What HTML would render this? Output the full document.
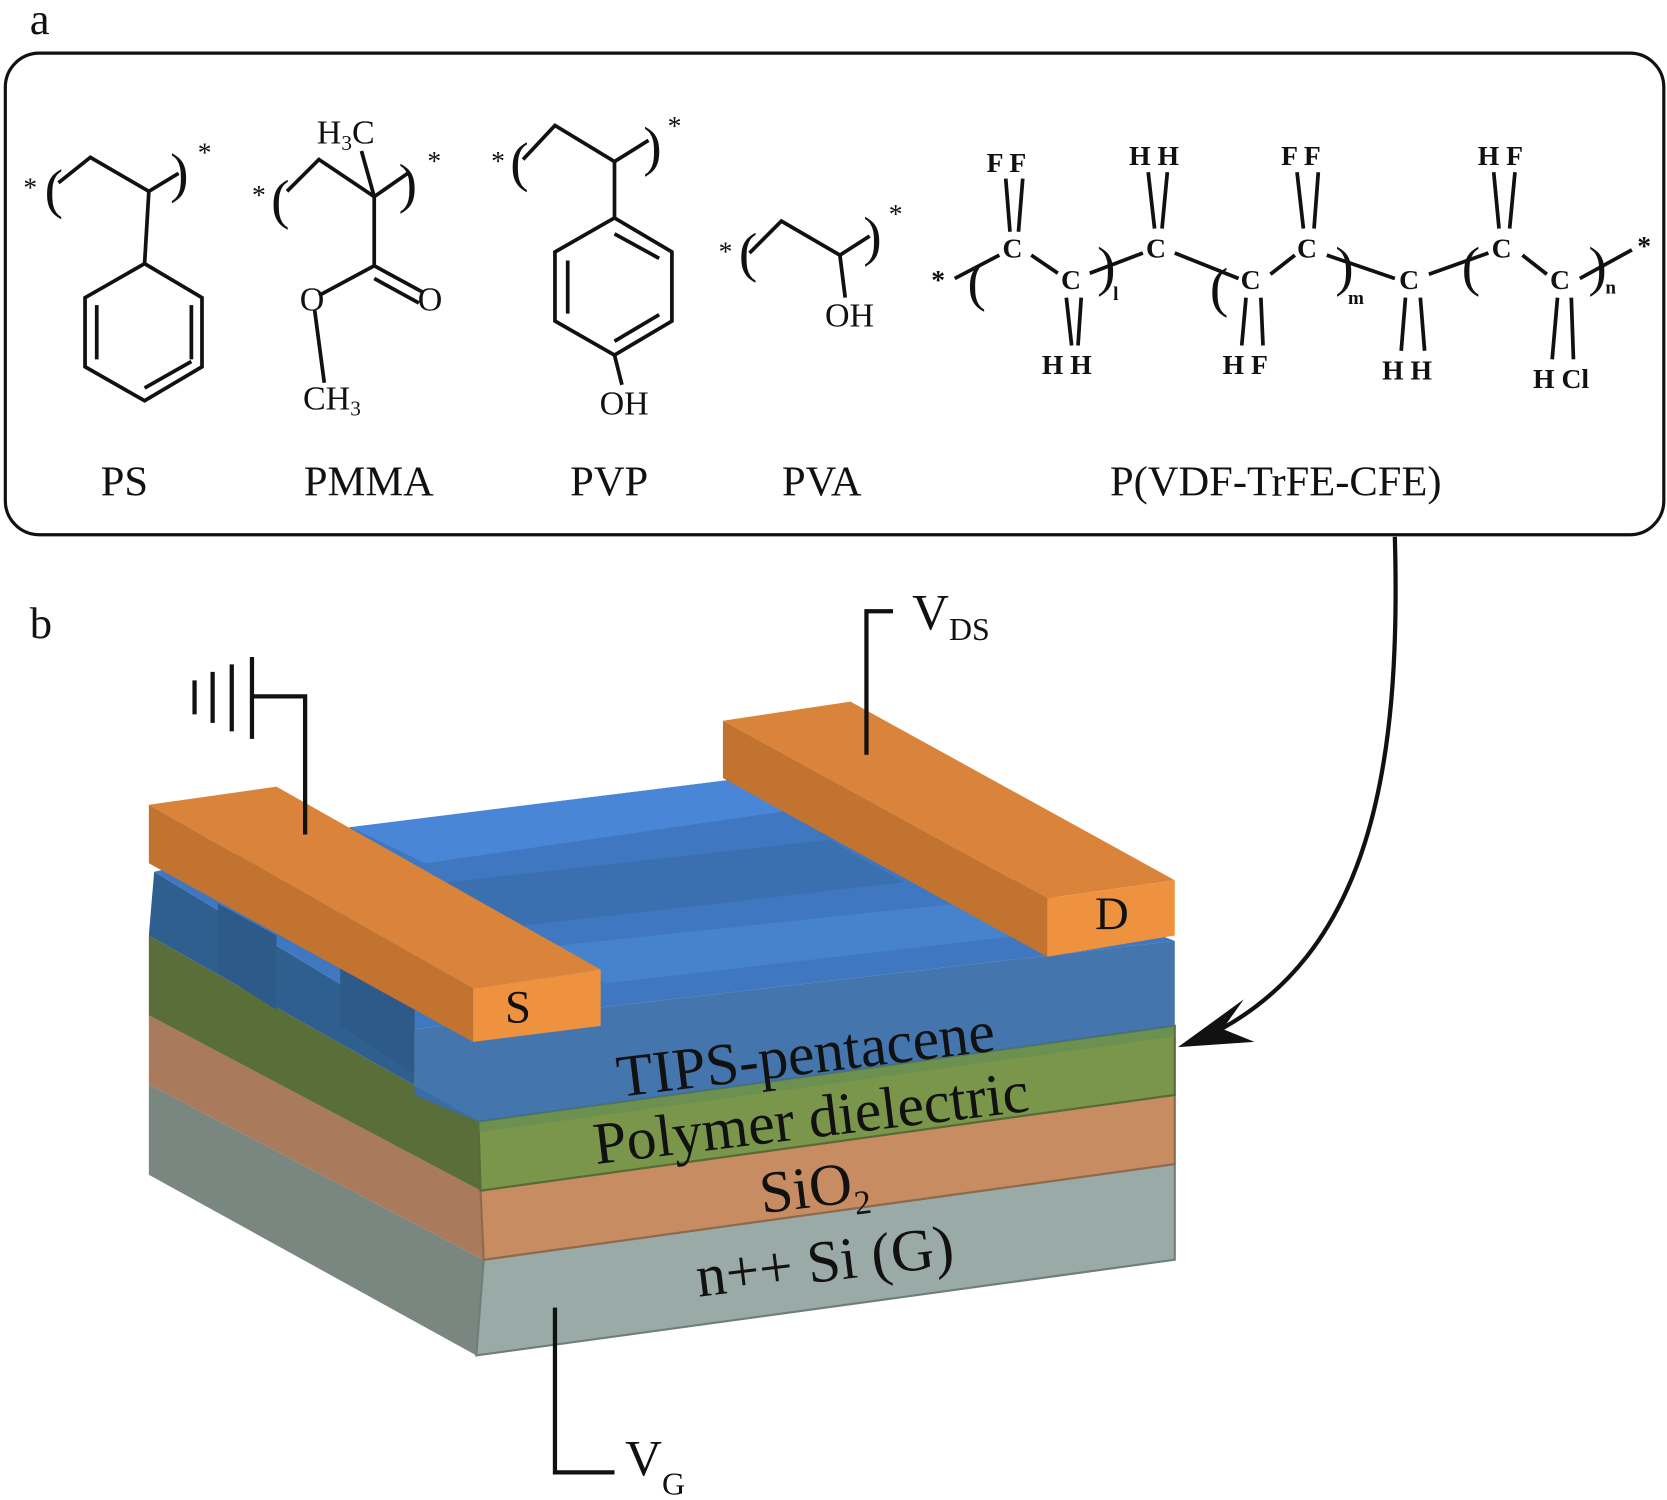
<!DOCTYPE html>
<html><head><meta charset="utf-8"><style>
html,body{margin:0;padding:0;background:#fff}
svg{display:block}
text{font-family:"Liberation Serif",serif;fill:#111}
</style></head><body>
<svg width="1667" height="1500" viewBox="0 0 1568 1411" preserveAspectRatio="none" xmlns="http://www.w3.org/2000/svg">
<text x="28" y="32" font-size="42">a</text>
<rect x="5" y="50" width="1560" height="453" rx="32" fill="none" stroke="#111" stroke-width="3"/>

<g stroke="#111" stroke-width="3.5" fill="none">
<path d="M55,172 L85,148 L140,180 L168,163"/>
<path d="M140,180 L136,248"/>
<polygon points="136,248 190,280 190,345 136,377 80,345 80,280"/>
<path d="M91,287 L91,338 M180,287 L180,338 M136,365 L180,340" />
<path d="M270,180 L300,150 L352,185 L385,162"/>
<path d="M340,142 L352,185 L352,250 L300,278 M352,250 L398,275 M352,262 L394,285"/>
<path d="M296,292 L305,360"/>
<path d="M492,150 L522,118 L578,152 L610,132"/>
<path d="M578,152 L578,205"/>
<polygon points="578,205 632,237 632,302 578,334 522,302 522,237"/>
<path d="M534,245 L534,295 M578,220 L620,243 M578,321 L620,296"/>
<path d="M578,334 L585,362"/>
<path d="M705,238 L735,208 L790,240 L818,222"/>
<path d="M790,240 L795,280"/>
<path d="M898,262 L940,240 M970,240 L995,257 M1025,257 L1075,238 M1105,238 L1165,262 M1195,258 L1218,240 M1248,240 L1312,262 M1344,258 L1400,238 M1432,240 L1455,258 M1486,262 L1535,235"/>
<path d="M946,168 L950,218 M962,168 L958,218"/>
<path d="M1080,162 L1086,215 M1098,162 L1093,215"/>
<path d="M1220,162 L1226,215 M1240,162 L1236,215"/>
<path d="M1405,162 L1410,215 M1425,162 L1420,215"/>
<path d="M1003,280 L1008,325 M1017,280 L1014,325"/>
<path d="M1172,280 L1168,325 M1186,280 L1188,325"/>
<path d="M1322,280 L1318,330 M1336,280 L1340,330"/>
<path d="M1465,280 L1460,338 M1478,280 L1480,338"/>
</g>
<g font-size="32">
<text x="22" y="185" font-size="26">*</text><text x="42" y="195" font-size="52">(</text><text x="160" y="180" font-size="52">)</text><text x="186" y="152" font-size="26">*</text>
<text x="237" y="192" font-size="26">*</text><text x="255" y="205" font-size="52">(</text><text x="375" y="190" font-size="52">)</text><text x="402" y="160" font-size="26">*</text>
<text x="298" y="135">H<tspan font-size="20" dy="6">3</tspan><tspan dy="-6">C</tspan></text>
<text x="282" y="292">O</text><text x="393" y="292">O</text>
<text x="285" y="385">CH<tspan font-size="20" dy="6">3</tspan></text>
<text x="462" y="160" font-size="26">*</text><text x="480" y="170" font-size="52">(</text><text x="605" y="155" font-size="52">)</text><text x="628" y="127" font-size="26">*</text>
<text x="564" y="390">OH</text>
<text x="676" y="245" font-size="26">*</text><text x="695" y="255" font-size="52">(</text><text x="812" y="240" font-size="52">)</text><text x="836" y="210" font-size="26">*</text>
<text x="776" y="307">OH</text>
</g>
<g font-size="26" font-weight="bold">
<text x="876" y="272">*</text><text x="910" y="282" font-size="52" font-weight="normal">(</text>
<text x="943" y="242">C</text><text x="998" y="272">C</text>
<text x="1032" y="268" font-size="52" font-weight="normal">)</text><text x="1047" y="282" font-size="18">l</text>
<text x="1078" y="242">C</text>
<text x="1138" y="288" font-size="52" font-weight="normal">(</text>
<text x="1167" y="272">C</text><text x="1220" y="242">C</text>
<text x="1256" y="268" font-size="52" font-weight="normal">)</text><text x="1268" y="286" font-size="18">m</text>
<text x="1316" y="272">C</text>
<text x="1375" y="268" font-size="52" font-weight="normal">(</text>
<text x="1403" y="242">C</text><text x="1458" y="272">C</text>
<text x="1494" y="268" font-size="52" font-weight="normal">)</text><text x="1510" y="276" font-size="18">n</text>
<text x="1540" y="240">*</text>
<text x="928" y="162">F F</text><text x="1062" y="155">H H</text><text x="1205" y="155">F F</text><text x="1390" y="155">H F</text>
<text x="980" y="352">H H</text><text x="1150" y="352">H F</text><text x="1300" y="357">H H</text><text x="1442" y="365">H Cl</text>
</g>
<g font-size="40" text-anchor="middle">
<text x="117" y="466">PS</text><text x="347" y="466">PMMA</text><text x="573" y="466">PVP</text><text x="773" y="466">PVA</text><text x="1200" y="466">P(VDF-TrFE-CFE)</text>
</g>

<text x="28" y="600" font-size="42">b</text>

<polygon points="140,1020 455,1185 448,1275 140,1105" fill="#7a8680"/>
<polygon points="455,1185 1105,1095 1105,1185 448,1275" fill="#9aaaa6" stroke="#6f7e79" stroke-width="2"/>
<polygon points="140,955 452,1120 455,1185 140,1020" fill="#a97a5c"/>
<polygon points="452,1120 1105,1030 1105,1095 455,1185" fill="#c88c62" stroke="#8e6a4d" stroke-width="2"/>
<polygon points="140,880 450,1055 452,1120 140,955" fill="#5a6e3a"/>
<polygon points="450,1055 1105,965 1105,1030 452,1120" fill="#79964a" stroke="#566b36" stroke-width="2"/>
<polygon points="145,820 390,968 390,1030 450,1055 140,880" fill="#2f5f8e"/>
<polygon points="145,820 330,778 700,732 1105,885 390,968" fill="#3f78c0"/>
<polygon points="330,778 700,732 760,760 400,812" fill="#4a86d8"/>
<polygon points="420,830 780,790 850,830 480,872" fill="#3a6fb0"/>
<polygon points="520,890 900,850 960,880 570,925" fill="#4683cc"/>
<polygon points="390,968 1105,885 1105,965 450,1055 390,1030" fill="#3a6ea8" opacity="0.95"/>
<polygon points="450,1055 1105,965 1105,975 450,1065" fill="#5f8a55" opacity="0.5"/>
<polygon points="205,850 260,880 260,950 205,915" fill="#2d5a88"/>
<polygon points="320,900 390,940 390,1010 320,965" fill="#2d5a88"/>
<polygon points="140,757 260,740 565,912 445,930" fill="#d9843a"/>
<polygon points="140,757 445,930 445,980 140,812" fill="#c27330"/>
<polygon points="445,930 565,912 565,965 445,980" fill="#ef923f"/>
<polygon points="680,678 800,660 1105,828 985,845" fill="#d9843a"/>
<polygon points="680,678 985,845 985,900 680,732" fill="#c27330"/>
<polygon points="985,845 1105,828 1105,880 985,900" fill="#ef923f"/>
<text x="475" y="962" font-size="44">S</text>
<text x="1030" y="874" font-size="44">D</text>
<g font-size="56" text-anchor="middle">
<text transform="translate(760,1010) rotate(-7)">TIPS-pentacene</text>
<text transform="translate(765,1070) rotate(-7)">Polymer dielectric</text>
<text transform="translate(768,1135) rotate(-7)">SiO<tspan font-size="32" dy="12">2</tspan></text>
<text transform="translate(778,1205) rotate(-7)">n++ Si (G)</text>
</g>
<g stroke="#111" stroke-width="4" fill="none">
<path d="M183,640 L183,672 M200,632 L200,680 M218,625 L218,688 M237,618 L237,695 M237,655 L287,655 L287,785"/>
<path d="M840,575 L815,575 L815,710"/>
<path d="M522,1230 L522,1385 L578,1385"/>
<path d="M1312,505 C1318,720 1290,900 1135,975"/>
</g>
<polygon points="1108,985 1170,940 1150,968 1180,980" fill="#111"/>
<text x="858" y="592" font-size="48">V<tspan font-size="30" dy="10">DS</tspan></text>
<text x="588" y="1388" font-size="48">V<tspan font-size="30" dy="18">G</tspan></text>
</svg>
</body></html>
